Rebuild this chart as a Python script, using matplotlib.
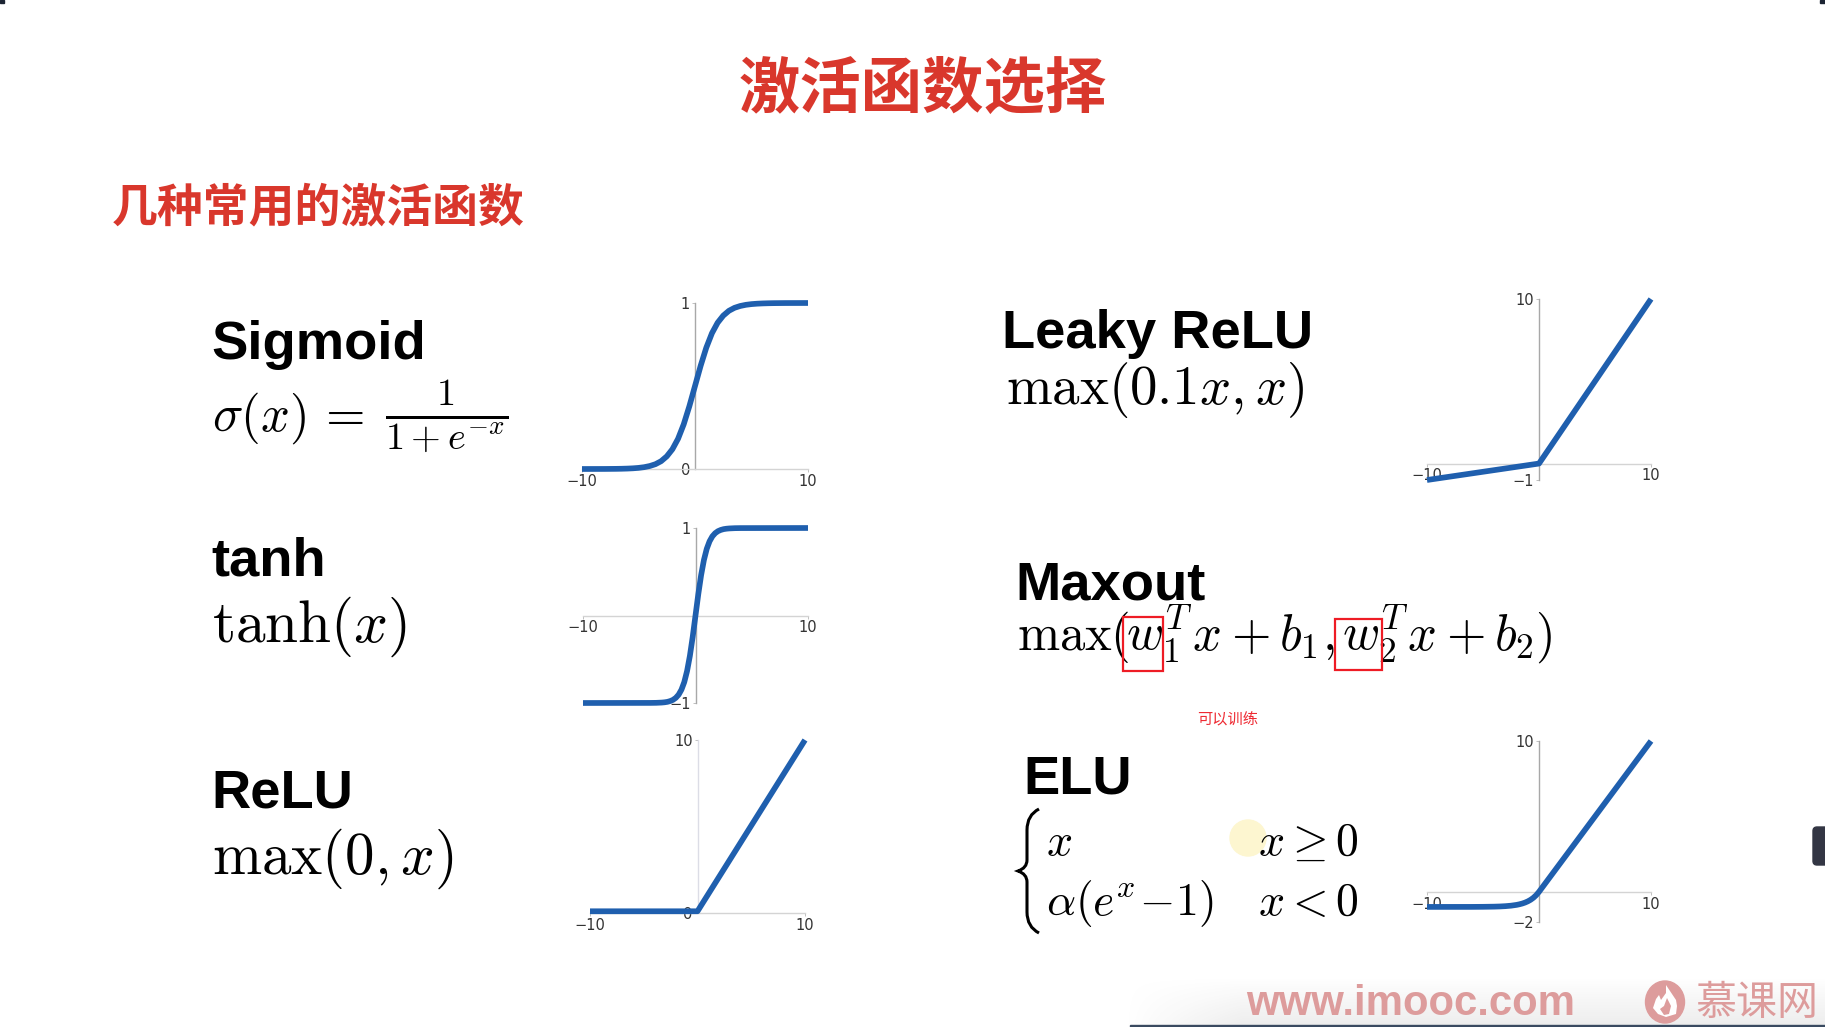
import matplotlib
matplotlib.use("Agg")
import matplotlib.pyplot as plt
import numpy as np
from matplotlib.patches import Circle, Ellipse, FancyBboxPatch, PathPatch, Rectangle
from matplotlib.path import Path

W, H = 1825, 1027
plt.rcParams['mathtext.fontset'] = 'cm'
plt.rcParams['font.family'] = ['Liberation Sans', 'Noto Sans CJK SC', 'DejaVu Sans']

# values
sigmoid_x = [-10, -8, -7, -6.5, -6, -5.5, -5, -4.5, -4, -3.5, -3, -2.5, -2, -1.5, -1, -0.5, 0,
             0.5, 1, 1.5, 2, 2.5, 3, 3.5, 4, 4.5, 5, 5.5, 6, 6.5, 7, 8, 10]
sigmoid_y = [0, 0.0003, 0.0009, 0.0015, 0.0025, 0.0041, 0.0067, 0.011, 0.018, 0.029, 0.047, 0.076,
             0.119, 0.182, 0.269, 0.378, 0.5, 0.622, 0.731, 0.818, 0.881, 0.924, 0.953, 0.971,
             0.982, 0.989, 0.9933, 0.9959, 0.9975, 0.9985, 0.9991, 0.9997, 1]
tanh_x = [-10, -4, -3.5, -3, -2.75, -2.5, -2.25, -2, -1.75, -1.5, -1.25, -1, -0.75, -0.5, -0.25, 0,
          0.25, 0.5, 0.75, 1, 1.25, 1.5, 1.75, 2, 2.25, 2.5, 2.75, 3, 3.5, 4, 10]
tanh_y = [-1, -0.999, -0.998, -0.995, -0.992, -0.987, -0.978, -0.964, -0.941, -0.905, -0.848, -0.762,
          -0.635, -0.462, -0.245, 0, 0.245, 0.462, 0.635, 0.762, 0.848, 0.905, 0.941, 0.964, 0.978,
          0.987, 0.992, 0.995, 0.998, 0.999, 1]
relu_x = [-10, 0, 10]
relu_y = [0.1, 0.1, 10]
leaky_x = [-10, 0, 10]
leaky_y = [-1, 0, 10]
elu_x = [-10, -6, -5, -4, -3.5, -3, -2.5, -2, -1.75, -1.5, -1.25, -1, -0.75, -0.5, -0.25, 0, 10]
elu_y = [-1, -0.998, -0.993, -0.982, -0.97, -0.95, -0.918, -0.865, -0.826, -0.777, -0.713, -0.632,
         -0.528, -0.393, -0.221, 0, 10]

titles = ['激活函数选择', '几种常用的激活函数']
names = ['Sigmoid', 'tanh', 'ReLU', 'Leaky ReLU', 'Maxout', 'ELU']

BLUE = '#1f5fae'
RED = '#d9372c'


def small_plot(box, xs, ys, ylim, yticks, ylabels, ycolor='#a8a8a8'):
    left, top, right, bottom = box
    ax = fig.add_axes([left / W, 1 - bottom / H, (right - left) / W, (bottom - top) / H])
    ax.patch.set_alpha(0)
    ax.plot(xs, ys, color=BLUE, lw=4.1, clip_on=False, solid_capstyle='butt', solid_joinstyle='round', zorder=5)
    ax.set_xlim(-10, 10)
    ax.set_ylim(*ylim)
    for side in ['top', 'right']:
        ax.spines[side].set_visible(False)
    ax.spines['left'].set_position(('data', 0))
    ax.spines['bottom'].set_position(('data', 0))
    ax.spines['left'].set_color(ycolor)
    ax.spines['bottom'].set_color('#d4d4d4')
    ax.spines['left'].set_linewidth(1.0)
    ax.spines['bottom'].set_linewidth(1.0)
    ax.set_xticks([-10, 10])
    ax.set_xticklabels(['\u221210', '10'])
    ax.set_yticks(yticks)
    ax.set_yticklabels(ylabels)
    ax.tick_params(length=2, width=0.7, color='#c0c0c0', labelsize=10.5, labelcolor='#333333', pad=1.5)
    for lab in ax.get_xticklabels() + ax.get_yticklabels():
        lab.set_family('DejaVu Sans')
    return ax


fig = plt.figure(figsize=(W / 100, H / 100), dpi=100, facecolor='white')

# full-slide layer, in pixels
bg = fig.add_axes([0, 0, 1, 1])
bg.axis('off')

# soft shadow behind the watermark, fades upwards and to the left
fade_y = np.linspace(0, 1, 50)[:, None]
fade_x = np.clip(np.linspace(0, 6, 700), 0, 1)[None, :]
shadow = np.zeros((50, 700, 4))
shadow[..., :3] = 0.55
shadow[..., 3] = 0.16 * fade_y * fade_x
bg.imshow(shadow, extent=(1125, W, H, 977), aspect='auto', zorder=0)
bg.set_xlim(0, W)
bg.set_ylim(H, 0)
bg.add_patch(Rectangle((1130, 1025), W - 1130, 2, color='#3a4a60', zorder=1))

# slide corners and the handle on the right
bg.add_patch(Rectangle((0, 0), 4, 3, color='#1c2433', zorder=1))
bg.add_patch(Rectangle((W - 5, 0), 5, 3, color='#1c2433', zorder=1))
bg.add_patch(FancyBboxPatch((1813, 827), 25, 38, boxstyle='round,pad=0,rounding_size=4', color='#333644', zorder=1))

# headings
bg.text(923, 90, titles[0], ha='center', va='center', fontsize=44.2, fontweight='bold', color=RED,
        family=['Noto Sans CJK SC'])
bg.text(112, 208, titles[1], ha='left', va='center', fontsize=33, fontweight='bold', color=RED,
        family=['Noto Sans CJK SC'])

# function names
name_pos = [(211, 359), (211, 576), (211, 807), (1002, 348), (1015, 600), (1023, 794)]
for name, (px, py) in zip(names, name_pos):
    bg.text(px, py, name, fontsize=39.2, fontweight='bold', color='black', va='baseline', ha='left')

# cursor highlight
bg.add_patch(Circle((1248, 838), 18, color='#fdf6d0', zorder=1))

# formulas
bg.text(212, 431, r'$\sigma(x)\,=$', fontsize=36.5, va='baseline', ha='left')
bg.text(385, 427, r'$\frac{1}{1+e^{-x}}$', fontsize=39.5, va='baseline', ha='left')
bg.text(212, 642, r'$\tanh(x)$', fontsize=42.8, va='baseline', ha='left')
bg.text(212, 874, r'$\max(0,x)$', fontsize=42.5, va='baseline', ha='left')
bg.text(1006, 404, r'$\max(0.1x,x)$', fontsize=39.5, va='baseline', ha='left')

# the maxout line is set wide, so it goes piece by piece
MAXOUT = 36.5
maxout_parts = [(1017, r'$\max$'), (1110, r'$($'), (1126, r'$w_1^T$'), (1192, r'$x$'), (1231, r'$+$'),
                (1279, r'$b_1$'), (1322, r'$,$'), (1342, r'$w_2^T$'), (1407, r'$x$'), (1446, r'$+$'),
                (1494, r'$b_2$'), (1535, r'$)$')]
for px, part in maxout_parts:
    bg.text(px, 650, part, fontsize=MAXOUT, va='baseline', ha='left')

bg.text(1046, 855, r'$x$', fontsize=33, va='baseline', ha='left')
bg.text(1046, 915, r'$\alpha(e^x\!-\!1)$', fontsize=32.8, va='baseline', ha='left')
bg.text(1258, 855, r'$x\geq 0$', fontsize=33, va='baseline', ha='left')
bg.text(1258, 915, r'$x<0$', fontsize=33, va='baseline', ha='left')

# big brace of the ELU cases
brace = Path([(1039, 809), (1027, 815), (1027, 830), (1027, 845), (1027, 860), (1027, 868), (1018, 871),
              (1027, 874), (1027, 882), (1027, 897), (1027, 912), (1027, 927), (1039, 933)],
             [Path.MOVETO, Path.CURVE3, Path.CURVE3, Path.LINETO, Path.LINETO, Path.CURVE3, Path.CURVE3,
              Path.CURVE3, Path.CURVE3, Path.LINETO, Path.LINETO, Path.CURVE3, Path.CURVE3])
bg.add_patch(PathPatch(brace, fill=False, lw=2.2, ec='black', zorder=2))

# trainable weights
for x0, y0, x1, y1 in [(1123, 617, 1163, 671), (1335, 619, 1382, 670)]:
    bg.add_patch(Rectangle((x0, y0), x1 - x0, y1 - y0, fill=False, ec='#ee1c25', lw=1.6, zorder=3))
bg.text(1228, 720, '可以训练', ha='center', va='center', fontsize=11, color='#ee2a32', family=['Noto Sans CJK SC'])

# watermark
PINK = '#dd9c9c'
bg.text(1411, 1004, 'www.imooc.com', ha='center', va='center', fontsize=30.2, fontweight='bold', color=PINK)
bg.add_patch(Ellipse((1665, 1002), 39, 42, color=PINK, zorder=2))
flame = Path([(1666, 985), (1672, 994), (1676, 1000), (1677, 1006), (1676, 1014), (1666, 1017), (1658, 1014),
              (1653, 1008), (1656, 999), (1659, 995), (1661, 1000), (1666, 993), (1666, 985)],
             [Path.MOVETO] + [Path.LINETO] * 12)
bg.add_patch(PathPatch(flame, fc='white', ec='none', zorder=3))
inner = Path([(1667, 998), (1671, 1006), (1669, 1014), (1664, 1015), (1660, 1009), (1664, 1006), (1667, 998)],
             [Path.MOVETO] + [Path.LINETO] * 6)
bg.add_patch(PathPatch(inner, fc=PINK, ec='none', zorder=4))
bg.text(1757, 1004, '慕课网', ha='center', va='center', fontsize=29.5, color=PINK, family=['Noto Sans CJK SC'], zorder=3)

# the six small curves
small_plot((582, 303, 808, 469), sigmoid_x, sigmoid_y, (0, 1), [0, 1], ['0', '1'])
small_plot((583, 528, 808, 703), tanh_x, tanh_y, (-1, 1), [-1, 1], ['\u22121', '1'])
small_plot((590, 740, 805, 913), relu_x, relu_y, (0, 10), [0, 10], ['0', '10'], ycolor='#dcdde6')
small_plot((1427, 299, 1651, 480), leaky_x, leaky_y, (-1, 10), [-1, 10], ['\u22121', '10'])
small_plot((1427, 741, 1651, 922), elu_x, elu_y, (-2, 10), [-2, 10], ['\u22122', '10'])

fig.savefig('out.png', dpi=100)
